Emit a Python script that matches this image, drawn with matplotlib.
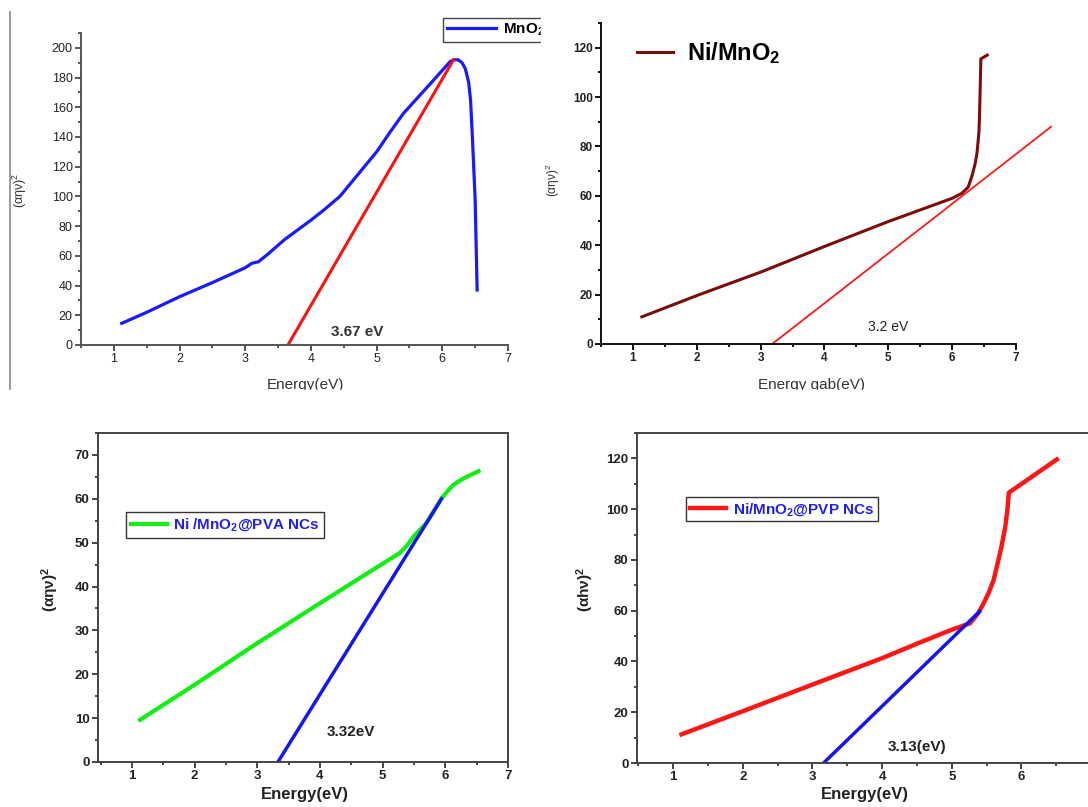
import numpy as np
import matplotlib
matplotlib.use("Agg")
import matplotlib.pyplot as plt
from matplotlib.lines import Line2D
from matplotlib.patches import Rectangle
from matplotlib.ticker import MultipleLocator

plt.rcParams['font.family'] = ['Liberation Sans', 'DejaVu Sans']
plt.rcParams['mathtext.default'] = 'regular'

# --- data ---
# (a) MnO2
e1 = [1.12, 1.5, 2.0, 2.5, 3.0, 3.1, 3.2, 3.33, 3.6, 4.0, 4.2, 4.44, 4.72, 5.0, 5.2, 5.41, 5.8, 6.12, 6.18, 6.24, 6.3, 6.35, 6.4, 6.43, 6.46, 6.5, 6.53]
a1 = [14.6, 22, 32.5, 42, 52, 55, 56, 60.6, 71, 84, 91, 100, 115, 130, 143, 156, 175, 190.8, 192, 192, 190, 186, 177, 165, 138, 97.6, 37]
fit1_x = [3.65, 6.17]
fit1_y = [0, 192]

# (b) Ni/MnO2
e2 = [1.14, 2.03, 3.02, 4.0, 5.0, 6.0, 6.15, 6.25, 6.31, 6.36, 6.39, 6.42, 6.43, 6.45, 6.55]
a2 = [11, 19.9, 29.3, 39.5, 49.6, 59, 61, 63.5, 68, 73, 77.5, 86, 94, 115.5, 117]
fit2_x = [3.18, 7.55]
fit2_y = [0, 88]

# (c) Ni/MnO2@PVA
e3 = [1.13, 2.0, 2.99, 4.0, 5.01, 5.27, 5.38, 5.5, 5.70, 5.94, 6.05, 6.13, 6.25, 6.34, 6.53]
a3 = [9.6, 17.6, 27, 36.2, 45.3, 47.6, 49.2, 51.5, 54.5, 60.1, 62, 63.2, 64.3, 65, 66.3]
fit3_x = [3.33, 5.94]
fit3_y = [0, 60]

# (d) Ni/MnO2@PVP
e4 = [1.12, 1.99, 2.99, 4.0, 4.5, 5.0, 5.26, 5.38, 5.45, 5.53, 5.6, 5.66, 5.72, 5.77, 5.8, 5.82, 6.51]
a4 = [11.3, 20.3, 30.8, 41.3, 47, 52.5, 55, 59, 62.5, 67, 72, 78.8, 86, 93.3, 100, 106.5, 119.6]
fit4_x = [3.16, 5.40]
fit4_y = [0, 59.7]

W, H = 1088, 807
fig = plt.figure(figsize=(W / 100, H / 100), dpi=100)


def box(l, r, t, b):
    # pixel box -> figure fraction
    return [l / W, 1 - b / H, (r - l) / W, (b - t) / H]


def style(ax, col, lw, fs, bold, ymaj, ymin, full=False):
    for s in ['left', 'bottom', 'top', 'right']:
        ax.spines[s].set_color(col)
        ax.spines[s].set_linewidth(lw)
    if not full:
        ax.spines['top'].set_visible(False)
        ax.spines['right'].set_visible(False)
    ax.set_xticks(range(1, 8))
    ax.xaxis.set_minor_locator(MultipleLocator(0.5))
    ax.yaxis.set_major_locator(MultipleLocator(ymaj))
    ax.yaxis.set_minor_locator(MultipleLocator(ymin))
    ax.tick_params(which='both', direction='out', color=col, width=lw, top=False, right=False)
    ax.tick_params(which='major', length=4, labelsize=fs, pad=2)
    ax.tick_params(which='minor', length=2)
    for lab in ax.get_xticklabels() + ax.get_yticklabels():
        lab.set_fontweight('bold' if bold else 'normal')
        lab.set_color('#222222')


# panel (a)
ax1 = fig.add_axes(box(81, 508, 33, 345))
ax1.plot(e1, a1, color='#1a1aff', lw=2.3, label='MnO$_2$')
ax1.plot(fit1_x, fit1_y, color='#ff1010', lw=2.2)
ax1.set_xlim(0.5, 7)
ax1.set_ylim(0, 210)
style(ax1, '#555555', 1.4, 9, False, 20, 10)
ax1.text(4.7, 9, '3.67 eV', fontsize=11, fontweight='bold', color='#333333', ha='center', va='center')
ax1.legend(loc='upper left', bbox_to_anchor=(443 / W, 1 - 18 / H), bbox_transform=fig.transFigure,
           borderaxespad=0, fancybox=False, edgecolor='#444444', framealpha=1,
           prop={'weight': 'bold', 'size': 11}, handlelength=3.2, borderpad=0.25, handletextpad=0.5)

# panel (b)
ax2 = fig.add_axes(box(601, 1016, 23, 344))
ax2.plot(e2, a2, color='#7a0c0c', lw=2.2, label='Ni/MnO$_2$')
ax2.plot(fit2_x, fit2_y, color='#ff1a1a', lw=1.3, clip_on=False)
ax2.set_xlim(0.5, 7)
ax2.set_ylim(0, 130)
style(ax2, '#111111', 1.4, 8.5, True, 20, 10)
ax2.text(5.0, 7, '3.2 eV', fontsize=10, color='#222222', ha='center', va='center')
ax2.legend(loc='center left', bbox_to_anchor=(628 / W, 1 - 53 / H), bbox_transform=fig.transFigure,
           borderaxespad=0, frameon=False, prop={'weight': 'bold', 'size': 17},
           handlelength=1.5, handletextpad=0.6)

# panel (c)
ax3 = fig.add_axes(box(98, 508, 433, 762))
ax3.plot(e3, a3, color='#11ee11', lw=3, label='Ni /MnO$_2$@PVA NCs')
ax3.plot(fit3_x, fit3_y, color='#1515ee', lw=2.5)
ax3.set_xlim(0.46, 7)
ax3.set_ylim(0, 75)
style(ax3, '#444444', 1.4, 9.5, True, 10, 5, full=True)
ax3.text(4.5, 6.8, '3.32eV', fontsize=11, fontweight='bold', color='#222222', ha='center', va='center')
leg3 = ax3.legend(loc='upper left', bbox_to_anchor=(126 / W, 1 - 512 / H), bbox_transform=fig.transFigure,
                  borderaxespad=0, fancybox=False, edgecolor='#333333', framealpha=1,
                  prop={'weight': 'bold', 'size': 11}, handlelength=2.4, borderpad=0.3, handletextpad=0.4)
for t in leg3.get_texts():
    t.set_color('#2020ee')

# panel (d), right part runs past the picture edge as in the source
ax4 = fig.add_axes(box(637, 1091, 433, 763))
ax4.plot(e4, a4, color='#ff1515', lw=3.2, label='Ni/MnO$_2$@PVP NCs')
ax4.plot(fit4_x, fit4_y, color='#1515ee', lw=2.5)
ax4.set_xlim(0.48, 7)
ax4.set_ylim(0, 130)
style(ax4, '#444444', 1.4, 9.5, True, 20, 10, full=True)
ax4.text(4.5, 6.3, '3.13(eV)', fontsize=11, fontweight='bold', color='#222222', ha='center', va='center')
leg4 = ax4.legend(loc='upper left', bbox_to_anchor=(686 / W, 1 - 497 / H), bbox_transform=fig.transFigure,
                  borderaxespad=0, fancybox=False, edgecolor='#333333', framealpha=1,
                  prop={'weight': 'bold', 'size': 11}, handlelength=2.4, borderpad=0.25, handletextpad=0.4)
for t in leg4.get_texts():
    t.set_color('#2020ee')

# axis titles placed in pixels
fig.text(20 / W, 1 - 190 / H, r'($\alpha\eta\nu$)$^2$', rotation=90, fontsize=9, color='#333333', ha='center', va='center')
fig.text(553 / W, 1 - 180 / H, r'($\alpha\eta\nu$)$^2$', rotation=90, fontsize=8.5, color='#333333', ha='center', va='center')
fig.text(50 / W, 1 - 590 / H, r'($\alpha\eta\nu$)$^2$', rotation=90, fontsize=11, fontweight='bold', color='#222222', ha='center', va='center')
fig.text(585 / W, 1 - 590 / H, r'($\alpha h\nu$)$^2$', rotation=90, fontsize=11, fontweight='bold', color='#222222', ha='center', va='center')

fig.text(305 / W, 1 - 378 / H, 'Energy(eV)', fontsize=11, color='#333333', ha='center', va='top')
fig.text(812 / W, 1 - 378 / H, 'Energy gab(eV)', fontsize=11, color='#333333', ha='center', va='top')
fig.text(305 / W, 1 - 787 / H, 'Energy(eV)', fontsize=12, fontweight='bold', color='#222222', ha='center', va='top')
fig.text(865 / W, 1 - 787 / H, 'Energy(eV)', fontsize=12, fontweight='bold', color='#222222', ha='center', va='top')

# pasted-panel edges: cut strips and image border
fig.add_artist(Rectangle((0, 1 - 402 / H), 1, 12 / H, transform=fig.transFigure, color='white', zorder=10))
fig.add_artist(Rectangle((541 / W, 1 - 47 / H), 20 / W, 42 / H, transform=fig.transFigure, color='white', zorder=10))
fig.add_artist(Line2D([10 / W, 10 / W], [1 - 12 / H, 1 - 390 / H], transform=fig.transFigure, color='#888888', lw=1.2))

fig.savefig('out.png', dpi=100)
